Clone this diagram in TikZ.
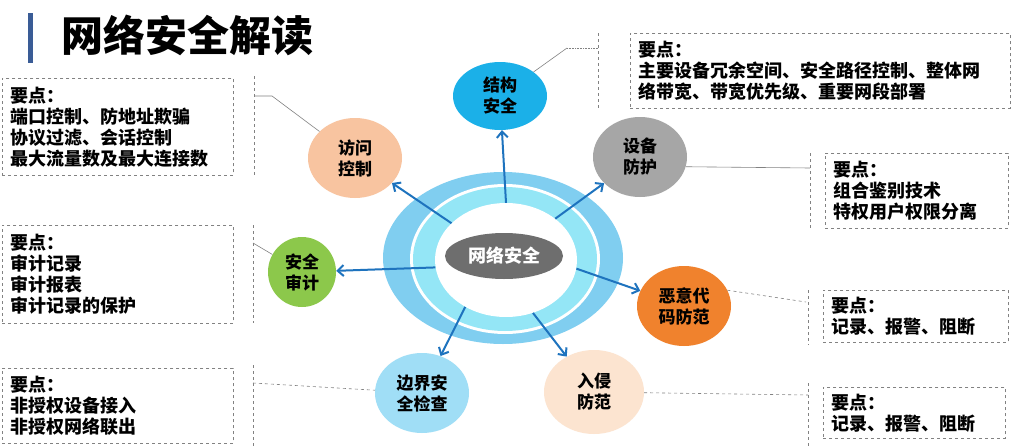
\documentclass[tikz,border=0pt]{standalone}
\usepackage{fontspec}
\setmainfont{Noto Sans CJK SC}
\usepackage{xcolor}
\definecolor{titleBar}{RGB}{58,92,150}
\definecolor{ringOuter}{RGB}{128,206,240}
\definecolor{ringCyan}{RGB}{148,230,246}
\definecolor{coreGray}{RGB}{110,110,110}
\definecolor{strBlue}{RGB}{27,176,232}
\definecolor{devGray}{RGB}{166,166,166}
\definecolor{malOrange}{RGB}{240,130,45}
\definecolor{idsPeach}{RGB}{252,228,208}
\definecolor{bndBlue}{RGB}{160,222,246}
\definecolor{audGreen}{RGB}{140,200,75}
\definecolor{accPeach}{RGB}{248,196,160}
\definecolor{arrowBlue}{RGB}{30,115,190}
\definecolor{lineGray}{RGB}{130,130,130}
\usepackage{tikz}
\usetikzlibrary{arrows.meta,positioning,shapes.geometric}

\tikzset{
  ringNode/.style={ellipse, inner sep=0pt},
  topicNode/.style={ellipse, inner sep=0pt, minimum width=94pt, minimum height=80pt,
    align=center, font=\bfseries\fontsize{17}{21}\selectfont},
  pointBox/.style={draw=lineGray, dashed, line width=0.7pt, anchor=north west,
    inner xsep=8pt, inner ysep=0pt, align=left, font=\bfseries\fontsize{18}{21}\selectfont},
  flowArrow/.style={arrowBlue, line width=2pt, -{Straight Barb[length=6pt,width=11pt]}},
  calloutLine/.style={lineGray, line width=0.6pt},
  sideDash/.style={lineGray, line width=0.7pt, dashed}
}

\begin{document}
\begin{tikzpicture}[x=1pt,y=-1pt]
  \useasboundingbox (0,0) rectangle (1012,447);
  \fill[white] (0,0) rectangle (1012,447);

  % title
  \fill[titleBar] (28,13) rectangle (33,63);
  \node[anchor=west, inner sep=0pt, font=\bfseries\fontsize{42}{42}\selectfont] (title) at (61,35) {网络安全解读};

  % rings in the middle
  \node[ringNode, fill=ringOuter, minimum width=240pt, minimum height=172pt] (outer) at (503,258) {};
  \node[ringNode, fill=white, minimum width=190pt, minimum height=150pt] (gap) at (505,259) {};
  \node[ringNode, fill=ringCyan, minimum width=184pt, minimum height=144pt] (cyan) at (505,259) {};
  \node[ringNode, fill=white, minimum width=142pt, minimum height=114pt] (inner) at (506,260) {};
  \node[ringNode, fill=coreGray, minimum width=118pt, minimum height=46pt, text=white,
    font=\bfseries\fontsize{18}{18}\selectfont] (net) at (504,256) {网络安全};

  % topics
  \node[topicNode, fill=strBlue, minimum width=94pt, minimum height=68pt] (str) at (500,96) {结构\\安全};
  \node[topicNode, fill=devGray] (dev) at (640,157) {设备\\防护};
  \node[topicNode, fill=malOrange] (mal) at (684,306) {恶意代\\码防范};
  \node[topicNode, fill=idsPeach, minimum width=100pt, minimum height=84pt] (ids) at (594,392) {入侵\\防范};
  \node[topicNode, fill=bndBlue] (bnd) at (422,393) {边界安\\全检查};
  \node[topicNode, fill=audGreen, minimum width=68pt, minimum height=70pt] (aud) at (302,272) {安全\\审计};
  \node[topicNode, fill=accPeach] (acc) at (355,158) {访问\\控制};

  % arrows out of the ring
  \draw[flowArrow] (inner.90) -- (str);
  \draw[flowArrow] (inner.40) -- (dev);
  \draw[flowArrow] (inner.-7) -- (mal);
  \draw[flowArrow] (inner.-63) -- (ids);
  \draw[flowArrow] (inner.-131) -- (bnd);
  \draw[flowArrow] (inner.186) -- (aud);
  \draw[flowArrow] (inner.146) -- (acc);

  % boxes
  \node[pointBox, text width=215pt, minimum height=97pt] (accBox) at (2,78)
    {要点：\\端口控制、防地址欺骗\\协议过滤、会话控制\\最大流量数及最大连接数};
  \node[pointBox, text width=215pt, minimum height=98pt] (audBox) at (2,225)
    {要点：\\审计记录\\审计报表\\审计记录的保护};
  \node[pointBox, text width=215pt, minimum height=75pt] (bndBox) at (2,368)
    {要点：\\非授权设备接入\\非授权网络联出};
  \node[pointBox, text width=364pt, minimum height=75pt] (strBox) at (630,33)
    {要点：\\主要设备冗余空间、安全路径控制、整体网\\络带宽、带宽优先级、重要网段部署};
  \node[pointBox, text width=167pt, minimum height=75pt] (devBox) at (825,153)
    {要点：\\组合鉴别技术\\特权用户权限分离};
  \node[pointBox, text width=169pt, minimum height=52pt] (malBox) at (823,290)
    {要点：\\记录、报警、阻断};
  \node[pointBox, text width=166pt, minimum height=51pt] (idsBox) at (823,387)
    {要点：\\记录、报警、阻断};

  % callouts
  \draw[sideDash] (254,76) -- (254,176);
  \draw[sideDash] (253,225) -- (253,323);
  \draw[sideDash] (253,365) -- (253,447);
  \draw[sideDash] (598,33) -- (598,108);
  \draw[sideDash] (810,153) -- (810,230);
  \draw[sideDash] (808,290) -- (808,345);
  \draw[sideDash] (808,383) -- (808,447);

  \coordinate (accTip) at (254,96);
  \coordinate (accBend) at (272,96);
  \coordinate (audTip) at (253,243);
  \coordinate (bndTip) at (253,383);
  \coordinate (strTip) at (598,48);
  \coordinate (strBend) at (567,48);
  \coordinate (devTip) at (810,168);
  \coordinate (malTip) at (806,302);
  \coordinate (idsTip) at (808,395);

  \draw[calloutLine] (accTip) -- (accBend) -- (acc);
  \draw[calloutLine] (audTip) -- (aud);
  \draw[calloutLine, dashed] (bndTip) -- (bnd);
  \draw[calloutLine] (str) -- (strBend);
  \draw[calloutLine, densely dotted] (strBend) -- (strTip);
  \draw[calloutLine] (dev.-12) -- (devTip);
  \draw[calloutLine, dashed] (mal.20) -- (malTip);
  \draw[calloutLine, dashed] (ids) -- (idsTip);
\end{tikzpicture}
\end{document}
